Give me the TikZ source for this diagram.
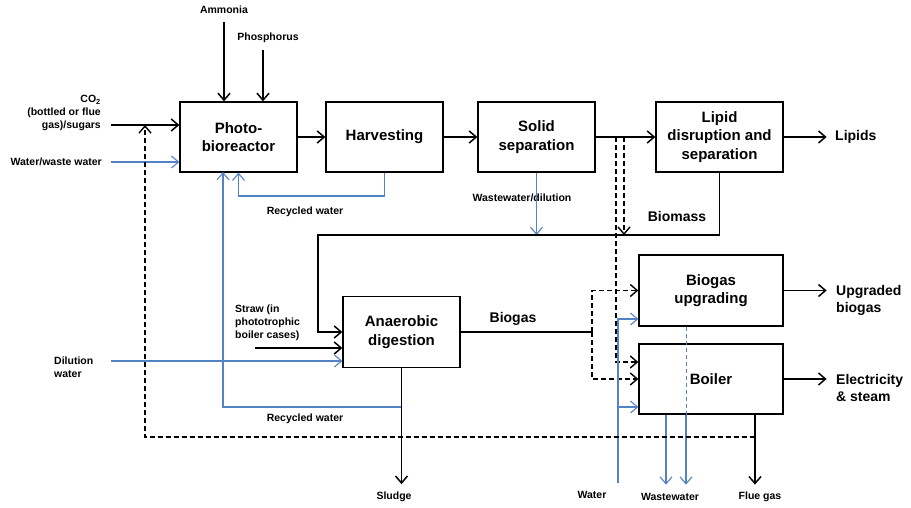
\documentclass[tikz,border=0pt]{standalone}
\usepackage{fontspec}
\setmainfont{Liberation Sans}
\usetikzlibrary{arrows.meta,calc}
\definecolor{wblue}{RGB}{84,130,196}
\begin{document}
\begin{tikzpicture}[x=1pt,y=-1pt,
 box/.style={draw, line width=1.3pt, minimum width=117pt, minimum height=70pt, align=center, font=\fontsize{15}{18.5}\selectfont\bfseries, inner sep=2pt},
 big/.style={font=\fontsize{14}{17.5}\selectfont\bfseries, inner sep=0pt},
 small/.style={font=\fontsize{10.5}{13}\selectfont\bfseries, inner sep=0pt},
 arr/.style={line width=1.7pt, -{Straight Barb[length=7pt,width=12pt,line width=1.5pt]}},
 warr/.style={draw=wblue, line width=1.1pt, -{Straight Barb[length=7pt,width=12pt,line width=1.1pt]}},
 darr/.style={line width=1.4pt, dash pattern=on 5pt off 3pt, -{Straight Barb[length=7pt,width=12pt,line width=1.4pt]}},
 solidline/.style={line width=1.7pt},
 wdash/.style={draw=wblue, line width=1pt, dash pattern=on 4pt off 3pt},
]
\useasboundingbox (0,0) rectangle (911,508);

% boxes
\node[box] (pbr) at (238.5,137) {Photo-\\bioreactor};
\node[box] (harv) at (384.5,137) {Harvesting};
\node[box] (solid) at (536.5,137) {Solid\\separation};
\node[box, minimum width=127pt] (lipid) at (719.5,137) {Lipid\\disruption and\\separation};
\node[box, minimum width=144pt, minimum height=71pt] (upg) at (711,290.5) {Biogas\\upgrading};
\node[box, minimum width=144pt] (boiler) at (711,379) {Boiler};
\node[box, minimum height=71pt] (ad) at (401.5,332) {Anaerobic\\digestion};

% labels
\node[small] (amm) at (224,10) {Ammonia};
\node[small] (phos) at (268,38) {Phosphorus};
\node[small, anchor=east, align=right] (co2) at (101,113) {CO\textsubscript{2}\\(bottled or flue\\gas)/sugars};
\node[small, anchor=east] (ww) at (102,162) {Water/waste water};
\node[small] (rwl1) at (305,212) {Recycled water};
\node[small] (rwl2) at (305,419) {Recycled water};
\node[small] (wdl) at (522,198) {Wastewater/dilution};
\node[big] (bml) at (677,216) {Biomass};
\node[big] (bgl) at (513,319) {Biogas};
\node[big, anchor=west] (lipl) at (835,137) {Lipids};
\node[big, anchor=west, align=left] (upgl) at (836,300.5) {Upgraded\\biogas};
\node[big, anchor=west, align=left] (elel) at (836,388) {Electricity\\\& steam};
\node[small, anchor=west, align=left] (straw) at (235,323) {Straw (in\\phototrophic\\boiler cases)};
\node[small, anchor=west, align=left] (dil) at (54,367) {Dilution\\water};
\node[small] (sludge) at (394,497) {Sludge};
\node[small] (water) at (592,495) {Water};
\node[small] (wwo) at (670,497) {Wastewater};
\node[small] (flue) at (760,497) {Flue gas};

% coordinates
\coordinate (ammS) at (224,22);
\coordinate (phS) at (263,50);
\coordinate (co2S) at (111,125);
\coordinate (wwS) at (111,162);
\coordinate (rw1) at (238.5,196);
\coordinate (rw2) at (401.5,407);
\coordinate (pbrB2) at (223,172);
\coordinate (bmL) at (318,235);
\coordinate (d1) at (616,137);
\coordinate (d2) at (624,137);
\coordinate (bgj) at (592,332);
\coordinate (wS) at (618,483);
\coordinate (fgj) at (755,437);
\coordinate (co2j) at (145,125);
\coordinate (strS) at (255,348);
\coordinate (dilS) at (111,361);

% inputs
\draw[arr] (ammS) -- (ammS |- pbr.north);
\draw[arr] (phS) -- (phS |- pbr.north);
\draw[arr] (co2S) -- (co2S -| pbr.west);
\draw[warr] (wwS) -- (wwS -| pbr.west);

% main line
\draw[arr] (pbr.east) -- (harv.west);
\draw[arr] (harv.east) -- (solid.west);
\draw[arr] (solid.east) -- (lipid.west);
\draw[arr] (lipid.east) -- ++(43,0);

% recycled water
\draw[warr] (harv.south) |- (rw1) -- (pbr.south);
\draw[warr] (rw2) -| (pbrB2);

% wastewater/dilution and biomass
\draw[warr] (solid.south) -- (solid.south |- bmL);
\draw[arr] (lipid.south) |- (bmL) |- (ad.west);

% dashed biomass bypasses
\draw[darr] (d2) -- (d2 |- bmL);
\draw[darr] (d1) |- ([yshift=17pt]boiler.west);

% biogas
\draw[solidline] (ad.east) -- (bgj);
\draw[darr] (bgj) |- (upg.west);
\draw[darr] (bgj) |- (boiler.west);

% water to upgrading and boiler
\draw[warr] (wS) |- ([yshift=-28.5pt]upg.west);
\draw[warr] (wS) |- ([yshift=-28pt]boiler.west);

% wastewater outputs
\draw[warr] ([xshift=-45pt]boiler.south) -- ++(0,70);
\draw[wdash] ([xshift=-25pt]upg.south) -- ([xshift=-25pt]boiler.south);
\draw[warr] ([xshift=-25pt]boiler.south) -- ++(0,70);

% flue gas
\draw[arr] ([xshift=44pt]boiler.south) -- ++(0,70);
\draw[darr] (fgj) -| (co2j);

% outputs
\draw[arr] (upg.east) -- ++(43,0);
\draw[arr] (boiler.east) -- ++(43,0);

% AD inputs/outputs
\draw[arr] (strS) -- (strS -| ad.west);
\draw[warr] (dilS) -- (dilS -| ad.west);
\draw[arr] (ad.south) -- ++(0,116);
\end{tikzpicture}
\end{document}
